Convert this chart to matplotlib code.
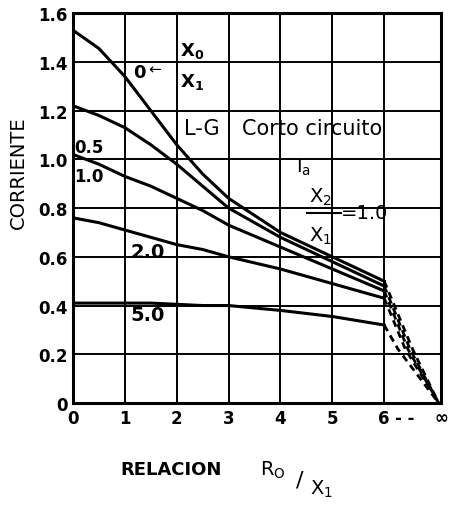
import numpy as np
import matplotlib
matplotlib.use("Agg")
import matplotlib.pyplot as plt

## data (x = R0/X1, y = corriente)
x_pts = [0, 0.5, 1, 1.5, 2, 2.5, 3, 4, 5, 6]
x_inf = 7.1  # position of the infinity tick

i_x0 = [1.53, 1.455, 1.34, 1.20, 1.06, 0.94, 0.84, 0.70, 0.60, 0.50]
i_x05 = [1.22, 1.18, 1.13, 1.06, 0.98, 0.89, 0.80, 0.68, 0.58, 0.48]
i_x10 = [1.02, 0.98, 0.93, 0.89, 0.84, 0.79, 0.73, 0.64, 0.55, 0.46]
i_x20 = [0.76, 0.74, 0.71, 0.68, 0.65, 0.63, 0.60, 0.55, 0.49, 0.43]
i_x50 = [0.41, 0.41, 0.41, 0.41, 0.405, 0.40, 0.40, 0.38, 0.355, 0.32]
curves = [i_x0, i_x05, i_x10, i_x20, i_x50]

# dashed continuation (6 -> infinity): x where each dash line crosses 0.22, and the end
dash_mid_y = 0.22
dash_mid_x = [6.55, 6.50, 6.46, 6.41, 6.27]
dash_end = (7.05, 0.0)

x_ticks = [0, 1, 2, 3, 4, 5, 6, x_inf]
x_ticklabels = ["0", "1", "2", "3", "4", "5", "6", "\u221e"]
y_ticks = [0, 0.2, 0.4, 0.6, 0.8, 1.0, 1.2, 1.4, 1.6]
y_ticklabels = ["0", "0.2", "0.4", "0.6", "0.8", "1.0", "1.2", "1.4", "1.6"]

fig = plt.figure(figsize=(4.62, 5.06), dpi=100)
ax = fig.add_axes([0.158, 0.2016, 0.797, 0.7704])

# grid drawn by hand like the original sheet
for xv in x_ticks:
    ax.axvline(xv, color="black", lw=1.4, zorder=1)
for yv in y_ticks:
    ax.axhline(yv, color="black", lw=1.4, zorder=1)

for c, xm in zip(curves, dash_mid_x):
    ax.plot(x_pts, c, color="black", lw=2.2, zorder=3)
    ax.plot([x_pts[-1], xm, dash_end[0]], [c[-1], dash_mid_y, dash_end[1]],
            color="black", lw=2.0, ls=(0, (2.5, 1.8)), zorder=3)

ax.set_xlim(0, x_inf)
ax.set_ylim(0, 1.6)
ax.set_xticks(x_ticks)
ax.set_xticklabels(x_ticklabels)
ax.set_yticks(y_ticks)
ax.set_yticklabels(y_ticklabels)
ax.tick_params(length=0, labelsize=12, pad=4)
for lab in ax.get_xticklabels() + ax.get_yticklabels():
    lab.set_fontweight("bold")
for s in ax.spines.values():
    s.set_linewidth(2.2)

ax.annotate("- -", xy=(6.2, 0), xytext=(0, -4), textcoords="offset points",
            fontsize=12, fontweight="bold", va="top", ha="left")

# curve labels
ax.text(1.15, 1.36, "0", fontsize=13, fontweight="bold", va="center")
ax.text(1.45, 1.37, "\u2190", fontsize=11, va="center")
ax.text(2.3, 1.45, "X$_\\mathregular{0}$", fontsize=13, fontweight="bold", ha="center", va="center")
ax.text(2.3, 1.32, "X$_\\mathregular{1}$", fontsize=13, fontweight="bold", ha="center", va="center")
ax.text(0.03, 1.05, "0.5", fontsize=12, fontweight="bold", va="center")
ax.text(0.03, 0.93, "1.0", fontsize=12, fontweight="bold", va="center")
ax.text(1.1, 0.62, "2.0", fontsize=14, fontweight="bold", va="center")
ax.text(1.1, 0.365, "5.0", fontsize=14, fontweight="bold", va="center")
ax.text(2.15, 1.13, "L-G", fontsize=15, va="center")
ax.text(3.26, 1.13, "Corto circuito", fontsize=15, va="center")
ax.text(4.3, 0.97, "I$_\\mathregular{a}$", fontsize=14, va="center")
ax.text(4.77, 0.85, "X$_\\mathregular{2}$", fontsize=14, ha="center", va="center")
ax.plot([4.52, 5.17], [0.78, 0.78], color="black", lw=1.5)
ax.text(5.17, 0.78, "=1.0", fontsize=14, va="center")
ax.text(4.77, 0.69, "X$_\\mathregular{1}$", fontsize=14, ha="center", va="center")

fig.text(0.04, 0.658, "CORRIENTE", rotation=90, fontsize=14, ha="center", va="center")
fig.text(0.26, 0.071, "RELACION", fontsize=13, fontweight="bold", va="center")
fig.text(0.562, 0.071, "R$_\\mathregular{O}$", fontsize=14, va="center")
fig.text(0.64, 0.05, "/", fontsize=16, va="center")
fig.text(0.672, 0.032, "X$_\\mathregular{1}$", fontsize=14, va="center")

fig.savefig("out.png", dpi=100)
